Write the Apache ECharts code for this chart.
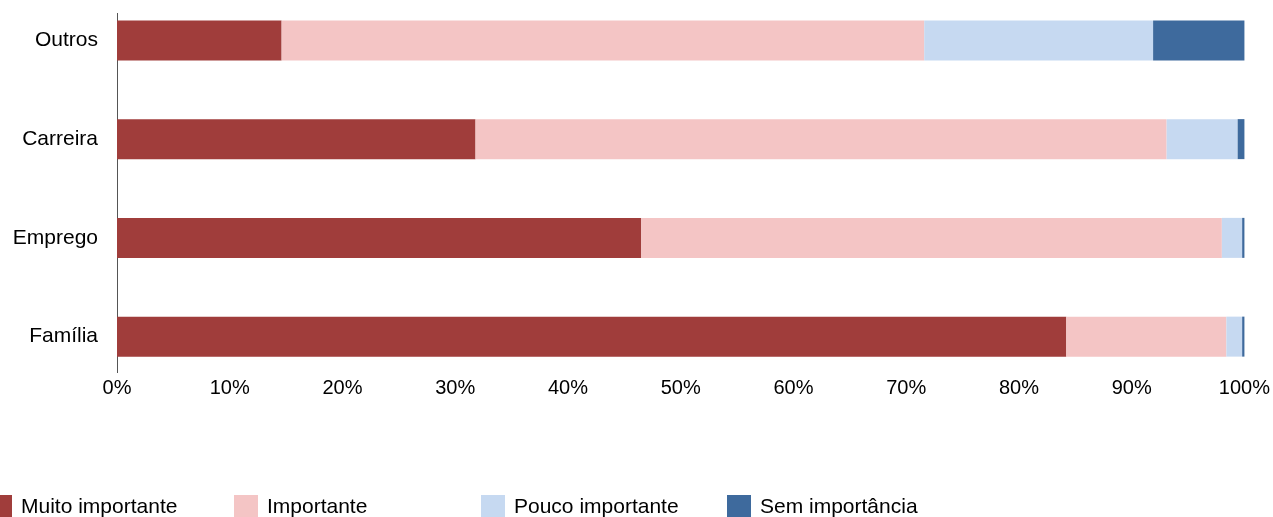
<!DOCTYPE html>
<html>
<head>
<meta charset="utf-8">
<script src="https://cdn.jsdelivr.net/npm/echarts@6/dist/echarts.min.js"></script>
<style>
html,body{margin:0;padding:0;background:#fff;overflow:hidden;}
#wrap{position:relative;width:1273px;height:517px;overflow:hidden;}
#chart{position:absolute;left:-12px;top:-9px;width:1285px;height:526px;}
</style>
</head>
<body>
<div id="wrap"><div id="chart"></div></div>
<script>
const categories = ['Família', 'Emprego', 'Carreira', 'Outros'];
const seriesNames = ['Muito importante', 'Importante', 'Pouco importante', 'Sem importância'];
const muitoImportante = [84.2, 46.5, 31.8, 14.6];
const importante = [14.2, 51.5, 61.3, 57.0];
const poucoImportante = [1.4, 1.8, 6.3, 20.3];
const semImportancia = [0.2, 0.2, 0.6, 8.1];
const xTicks = [0, 10, 20, 30, 40, 50, 60, 70, 80, 90, 100];

const colors = ['#a03d3b', '#f4c5c5', '#c6d9f1', '#3e6a9d'];
const values = [muitoImportante, importante, poucoImportante, semImportancia];
const legendLefts = [0, 246, 493, 739];

const chart = echarts.init(document.getElementById('chart'));
chart.setOption({
  animation: false,
  textStyle: { fontFamily: 'Liberation Sans, Arial, sans-serif' },
  grid: { left: 129, right: 28, top: 0, bottom: 131 },
  xAxis: {
    type: 'value', min: xTicks[0], max: xTicks[xTicks.length - 1], interval: 10,
    axisLine: { show: false }, axisTick: { show: false }, splitLine: { show: false },
    axisLabel: { formatter: '{value}%', color: '#000', fontSize: 20, margin: -8 }
  },
  yAxis: {
    type: 'category', data: categories,
    axisLine: { show: false }, axisTick: { show: false },
    axisLabel: { color: '#000', fontSize: 21, margin: 19 }
  },
  legend: seriesNames.map((n, i) => ({
    left: legendLefts[i], top: 504, padding: 0, itemWidth: 24, itemHeight: 24,
    icon: 'rect', selectedMode: false,
    textStyle: { fontSize: 21, color: '#000', padding: [8, 0, 0, 4] },
    data: [n]
  })),
  graphic: [{
    type: 'line', shape: { x1: 129.5, y1: 22, x2: 129.5, y2: 382 },
    style: { stroke: '#555', lineWidth: 1 }
  }],
  series: seriesNames.map((n, i) => ({
    name: n, type: 'bar', stack: 'total', barWidth: 40,
    itemStyle: { color: colors[i] },
    data: values[i]
  }))
});
</script>
</body>
</html>
